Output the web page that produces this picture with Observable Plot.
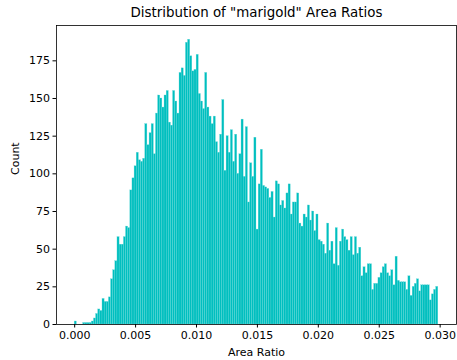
<!DOCTYPE html>
<html><head><meta charset="utf-8">
<script src="https://cdn.jsdelivr.net/npm/d3@7"></script>
<script src="https://cdn.jsdelivr.net/npm/@observablehq/plot@0.6"></script>
<style>body{margin:0;background:#fff;} svg{font-family:"DejaVu Sans",sans-serif;}</style>
</head><body><div id="chart"></div>
<script>
// Histogram counts (170 bins spanning rangeMin..rangeMax)
const counts = [
  2,0,0,0,1,1,1,1,2,4,7,10,9,17,15,15,18,30,36,42,58,
  53,53,58,65,64,89,97,105,114,109,108,110,133,119,127,133,113,140,152,150,144,152,
  155,134,132,155,148,140,167,170,165,187,189,178,168,169,179,153,148,143,167,144,138,133,
  138,121,114,126,149,102,125,114,129,108,126,100,113,136,98,131,81,107,98,124,63,93,116,92,
  91,90,84,88,71,95,93,79,82,77,87,93,73,81,81,87,67,65,73,71,79,
  69,75,62,73,56,55,53,47,67,49,55,40,64,39,55,63,58,56,49,58,46,58,47,
  51,32,38,34,40,40,23,27,27,31,34,38,40,34,32,36,26,45,29,28,28,28,23,
  32,19,25,27,30,22,26,26,26,26,16,20,23,25
];
const rangeMin = 0;
const rangeMax = 0.02985;
const xTicks = [0, 0.005, 0.010, 0.015, 0.020, 0.025, 0.030];
const yTicks = [0, 25, 50, 75, 100, 125, 150, 175];
const titleText = 'Distribution of "marigold" Area Ratios';
const xLabel = "Area Ratio";
const yLabel = "Count";

const bw = (rangeMax - rangeMin) / counts.length;
const bins = counts.map((c, i) => ({x1: rangeMin + i * bw, x2: rangeMin + (i + 1) * bw, count: c}));
const pad = 0.05 * (rangeMax - rangeMin);
const ymax = d3.max(counts) * 1.05;

const chart = Plot.plot({
  width: 457, height: 360,
  marginLeft: 56, marginRight: 1, marginTop: 25, marginBottom: 36,
  style: {fontFamily: '"DejaVu Sans", sans-serif', fontSize: "11px", color: "#000", background: "#fff"},
  x: {domain: [rangeMin - pad, rangeMax + pad]},
  y: {domain: [0, ymax]},
  marks: [
    Plot.rect(bins, {x1: "x1", x2: "x2", y1: 0, y2: "count", fill: "#00bfbf", stroke: "#6cd9d9", strokeWidth: 0.3}),
    Plot.frame({stroke: "#000", strokeWidth: 0.8}),
    Plot.axisX({ticks: xTicks, tickFormat: d3.format(".3f"), tickSize: 3.5, tickPadding: 3, fontSize: 11, label: null, stroke: "#000"}),
    Plot.axisY({ticks: yTicks, tickSize: 3.5, tickPadding: 3, fontSize: 11, label: null, stroke: "#000"}),
    Plot.text([xLabel], {frameAnchor: "bottom", lineAnchor: "middle", dy: 28, fontSize: 11, fill: "#000"}),
    Plot.text([yLabel], {frameAnchor: "left", lineAnchor: "middle", dx: -41, rotate: -90, fontSize: 11, fill: "#000"}),
    Plot.text([titleText], {frameAnchor: "top", lineAnchor: "middle", dy: -12.5, fontSize: 13.4, fill: "#000"})
  ]
});
document.getElementById("chart").appendChild(chart);
</script>
</body></html>
